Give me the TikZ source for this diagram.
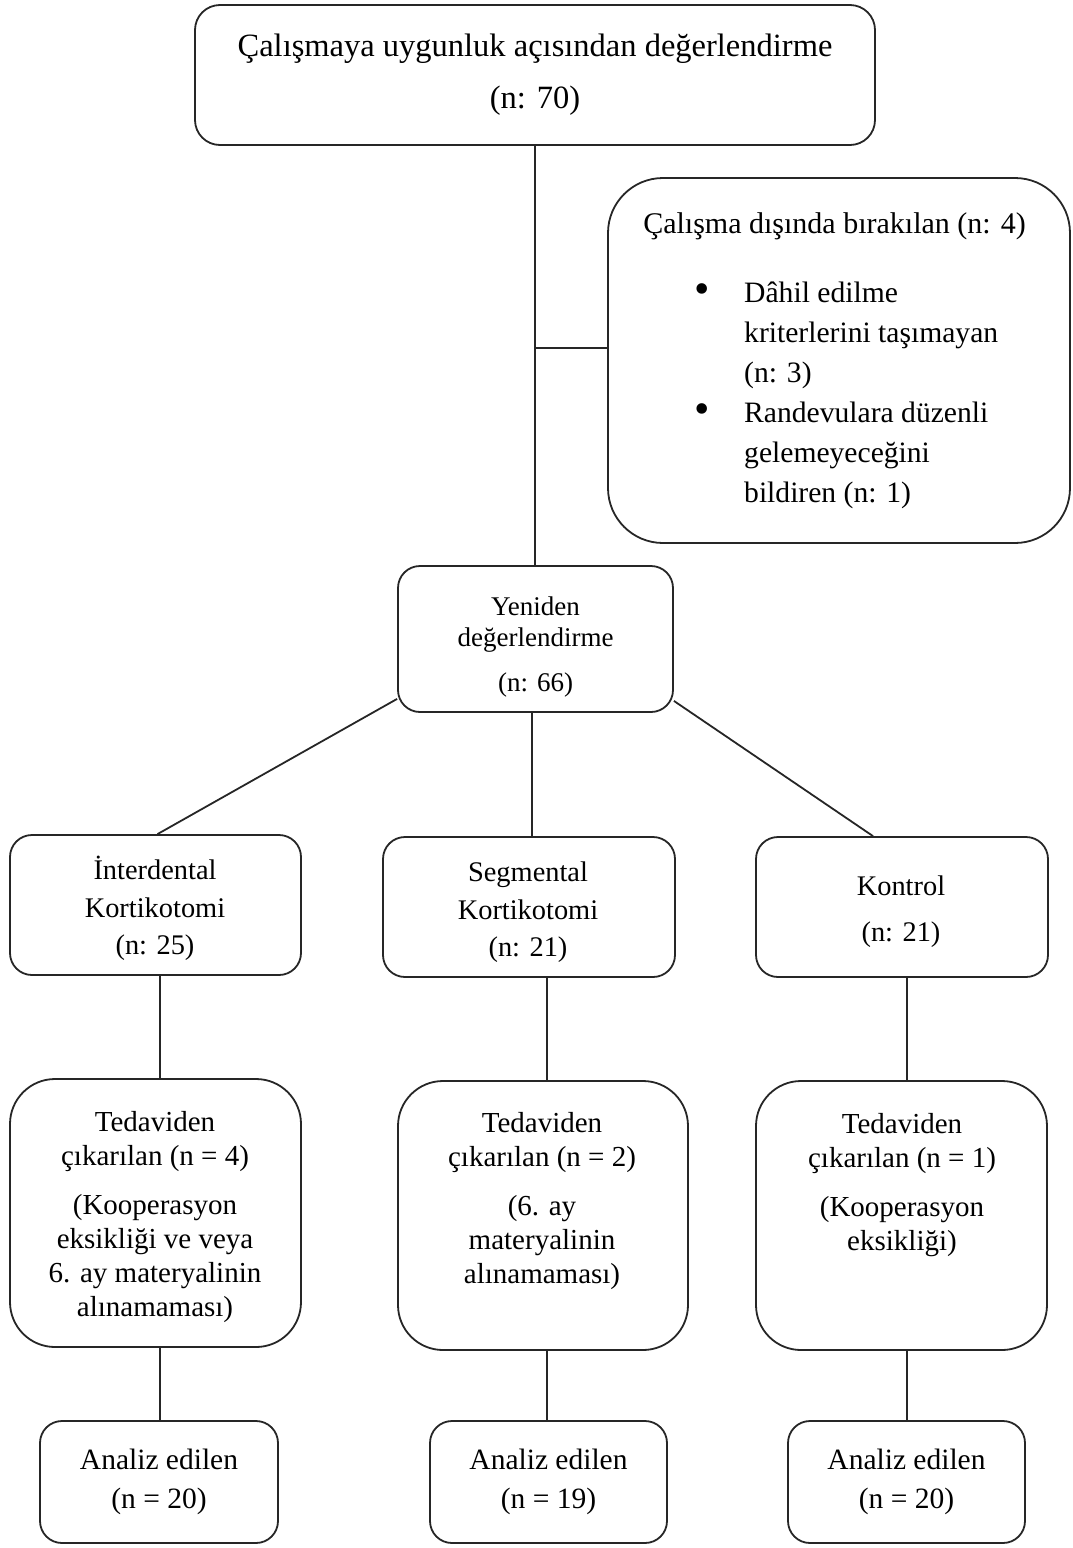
\documentclass[tikz,border=0pt]{standalone}
\usepackage{fontspec}
\setmainfont{Liberation Serif}
\newcommand\fsz[2]{\fontsize{#1}{#2}\selectfont}
\begin{document}
\begin{tikzpicture}[x=1pt,y=-1pt,
  box/.style={draw=black!85,line width=1.8pt,rounded corners=22pt,inner sep=0pt,align=center},
  conn/.style={draw=black!85,line width=1.8pt},
  txt/.style={inner sep=0pt,align=center}]
\useasboundingbox (0,0) rectangle (1072,1548);
% top
\node[box,minimum width=680,minimum height=140,rounded corners=25pt,font=\fsz{32.5}{52}] (top) at (535,75)
  {Çalışmaya uygunluk açısından değerlendirme\\(n: 70)};
% exclusion
\node[box,minimum width=462,minimum height=365,rounded corners=55pt] (excl) at (839,360.5) {};
\node[txt,font=\fsz{30}{40}] (exhead) at (834.5,226) {Çalışma dışında bırakılan (n: 4)};
\node[txt,font=\fsz{44}{40}] (bul1) at (702,294) {•};
\node[txt,font=\fsz{44}{40}] (bul2) at (702,414) {•};
\node[txt,align=left,anchor=base west,font=\fsz{29.6}{40}] (item1) at (744,382)
  {Dâhil edilme\\kriterlerini taşımayan\\(n: 3)};
\node[txt,align=left,anchor=base west,font=\fsz{29.6}{40}] (item2) at (744,502)
  {Randevulara düzenli\\gelemeyeceğini\\bildiren (n: 1)};
% re-evaluation
\node[box,minimum width=275,minimum height=146] (yen) at (535.5,639) {};
\node[txt,anchor=base,font=\fsz{27}{31}] (yentxt) at (535.5,691)
  {Yeniden\\değerlendirme\\[14pt](n: 66)};
% groups
\node[box,minimum width=291,minimum height=140] (inter) at (155.5,905) {};
\node[box,minimum width=292,minimum height=140] (seg) at (529,907) {};
\node[box,minimum width=292,minimum height=140] (kon) at (902,907) {};
\node[txt,anchor=base,font=\fsz{28.4}{37.5}] (intertxt) at (155,954.5)
  {İnterdental\\Kortikotomi\\(n: 25)};
\node[txt,anchor=base,font=\fsz{28.4}{37.5}] (segtxt) at (528,956.5)
  {Segmental\\Kortikotomi\\(n: 21)};
\node[txt,anchor=base,font=\fsz{28.4}{46}] (kontxt) at (901,941.5)
  {Kontrol\\(n: 21)};
% withdrawn
\node[box,minimum width=291,minimum height=268,rounded corners=45pt] (ted1) at (155.5,1213) {};
\node[box,minimum width=290,minimum height=269,rounded corners=45pt] (ted2) at (543,1215.5) {};
\node[box,minimum width=291,minimum height=269,rounded corners=45pt] (ted3) at (901.5,1215.5) {};
\node[txt,anchor=base,font=\fsz{29}{34}] (t1) at (155,1316)
  {Tedaviden\\çıkarılan (n = 4)\\[15pt](Kooperasyon\\eksikliği ve veya\\6. ay materyalinin\\alınamaması)};
\node[txt,anchor=base,font=\fsz{29}{34}] (t2) at (542,1283)
  {Tedaviden\\çıkarılan (n = 2)\\[15pt](6. ay\\materyalinin\\alınamaması)};
\node[txt,anchor=base,font=\fsz{29}{34}] (t3) at (902,1250)
  {Tedaviden\\çıkarılan (n = 1)\\[15pt](Kooperasyon\\eksikliği)};
% analysed
\node[box,minimum width=238,minimum height=122,font=\fsz{29.5}{39}] (an1) at (159,1482)
  {Analiz edilen\\(n = 20)};
\node[box,minimum width=237,minimum height=122,font=\fsz{29.5}{39}] (an2) at (548.5,1482)
  {Analiz edilen\\(n = 19)};
\node[box,minimum width=237,minimum height=122,font=\fsz{29.5}{39}] (an3) at (906.5,1482)
  {Analiz edilen\\(n = 20)};
% connectors
\coordinate (br) at (535,348);
\coordinate (c1) at (160,0);
\coordinate (c2) at (547,0);
\coordinate (c3) at (907,0);
\draw[conn] (top.south) -- (top.south |- yen.north);
\draw[conn] (br) -- (br -| excl.west);
\draw[conn] ([yshift=14pt]yen.south west) -- ([xshift=2pt]inter.north);
\draw[conn] ([xshift=-3.5pt]yen.south) -- ([xshift=-3.5pt]yen.south |- seg.north);
\draw[conn] ([yshift=12pt]yen.south east) -- ([xshift=-29pt]kon.north);
\draw[conn] (inter.south -| c1) -- (ted1.north -| c1);
\draw[conn] (seg.south -| c2) -- (ted2.north -| c2);
\draw[conn] (kon.south -| c3) -- (ted3.north -| c3);
\draw[conn] (ted1.south -| c1) -- (an1.north -| c1);
\draw[conn] (ted2.south -| c2) -- (an2.north -| c2);
\draw[conn] (ted3.south -| c3) -- (an3.north -| c3);
\end{tikzpicture}
\end{document}
